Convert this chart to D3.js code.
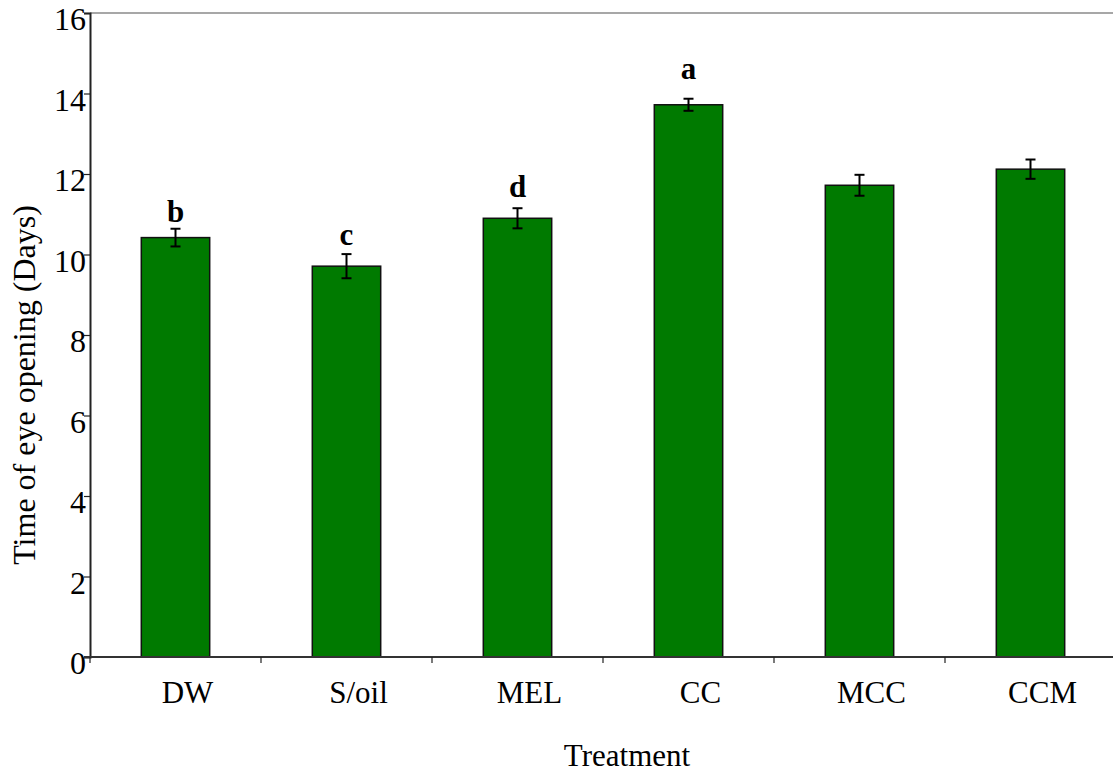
<!DOCTYPE html>
<html>
<head>
<meta charset="utf-8">
<script src="https://cdn.jsdelivr.net/npm/d3@7"></script>
<style>
  body { margin: 0; background: #fff; }
  svg { display: block; }
  svg text { font-family: "Liberation Serif", "Times New Roman", serif; fill: #000; }
</style>
</head>
<body>
<svg id="chart" width="1113" height="772"></svg>
<script>
// data
const treatments = ["DW", "S/oil", "MEL", "CC", "MCC", "CCM"];
const meanDays   = [10.42, 9.71, 10.9, 13.72, 11.72, 12.12];
const errDays    = [0.22, 0.3, 0.25, 0.15, 0.26, 0.24];
const sigLetters = ["b", "c", "d", "a", "", ""];
const letterAt   = [10.81, 10.24, 11.42, 14.36, null, null];
const yTicks     = [0, 2, 4, 6, 8, 10, 12, 14, 16];

const svg = d3.select("#chart");
const plotL = 90, plotR = 1116, plotT = 13, plotB = 657;

const x = d3.scaleBand().domain(treatments).range([plotL, plotR]).padding(0);
const y = d3.scaleLinear().domain([0, 16]).range([plotB, plotT]);
const barW = x.bandwidth() * 0.4;
const mid = d => x(d) + x.bandwidth() / 2;

// top frame line
svg.append("line")
  .attr("x1", plotL).attr("x2", 1113)
  .attr("y1", plotT).attr("y2", plotT)
  .attr("stroke", "#8a8a8a").attr("stroke-width", 1.5);

// bars
svg.selectAll("rect.bar").data(treatments).enter().append("rect")
  .attr("class", "bar")
  .attr("x", d => mid(d) - barW / 2)
  .attr("width", barW)
  .attr("y", (d, i) => y(meanDays[i]))
  .attr("height", (d, i) => y(0) - y(meanDays[i]))
  .attr("fill", "#007a00")
  .attr("stroke", "#111").attr("stroke-width", 1.5);

// error bars
const eb = svg.selectAll("g.err").data(treatments).enter().append("g")
  .attr("class", "err")
  .attr("stroke", "#000").attr("stroke-width", 2);
eb.append("line")
  .attr("x1", mid).attr("x2", mid)
  .attr("y1", (d, i) => y(meanDays[i] + errDays[i]))
  .attr("y2", (d, i) => y(meanDays[i] - errDays[i]));
[1, -1].forEach(s => {
  eb.append("line")
    .attr("x1", d => mid(d) - 5).attr("x2", d => mid(d) + 5)
    .attr("y1", (d, i) => y(meanDays[i] + s * errDays[i]))
    .attr("y2", (d, i) => y(meanDays[i] + s * errDays[i]));
});

// significance letters
svg.selectAll("text.sig").data(treatments.filter((d, i) => sigLetters[i])).enter().append("text")
  .attr("class", "sig")
  .attr("x", mid)
  .attr("y", d => y(letterAt[treatments.indexOf(d)]))
  .attr("text-anchor", "middle")
  .attr("font-size", 31).attr("font-weight", "bold")
  .text(d => sigLetters[treatments.indexOf(d)]);

// y axis
const yAxis = svg.append("g")
  .attr("transform", `translate(${plotL},0)`)
  .call(d3.axisLeft(y).tickValues(yTicks).tickSize(6).tickPadding(0))
  .attr("font-family", null).attr("font-size", null);
yAxis.select(".domain").attr("stroke", "#222").attr("stroke-width", 2);
yAxis.selectAll(".tick line").attr("stroke", "#222").attr("stroke-width", 1.2);
yAxis.selectAll(".tick text")
  .attr("x", -4).attr("dy", "0.52em")
  .style("font-size", "32px");

// x axis: line plus ticks at band edges
svg.append("line")
  .attr("x1", plotL - 6).attr("x2", 1113)
  .attr("y1", plotB).attr("y2", plotB)
  .attr("stroke", "#333").attr("stroke-width", 2);
svg.selectAll("line.xt").data(treatments).enter().append("line")
  .attr("class", "xt")
  .attr("x1", d => x(d)).attr("x2", d => x(d))
  .attr("y1", plotB).attr("y2", plotB + 6)
  .attr("stroke", "#222").attr("stroke-width", 1.2);
svg.selectAll("text.cat").data(treatments).enter().append("text")
  .attr("class", "cat")
  .attr("x", d => mid(d) + 12)
  .attr("y", 703)
  .attr("text-anchor", "middle")
  .attr("font-size", 31)
  .text(d => d);

// axis titles
svg.append("text")
  .attr("x", 627).attr("y", 766)
  .attr("text-anchor", "middle").attr("font-size", 31)
  .text("Treatment");
svg.append("text")
  .attr("transform", "translate(35,385) rotate(-90)")
  .attr("text-anchor", "middle").attr("font-size", 32)
  .text("Time of eye opening (Days)");
</script>
</body>
</html>
